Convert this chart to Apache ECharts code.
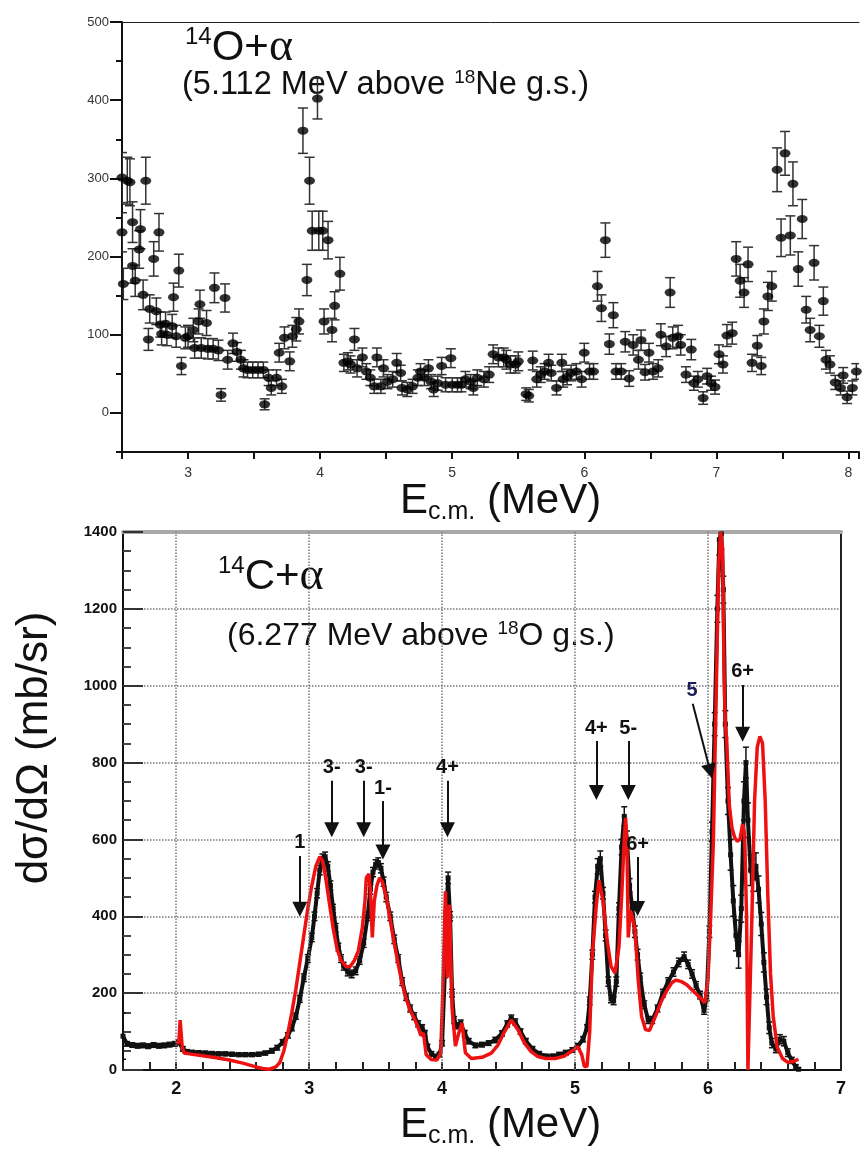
<!DOCTYPE html>
<html>
<head>
<meta charset="utf-8">
<script src="https://cdn.jsdelivr.net/npm/echarts@6/dist/echarts.min.js"></script>
<style>
  html, body { margin: 0; padding: 0; background: #fff; }
  #chart-container { width: 862px; height: 1152px; }
</style>
</head>
<body>
<div id="chart-container"></div>
<script>
var FONT = '"Liberation Sans", Arial, sans-serif';

// 14O + alpha excitation function: [E_cm (MeV), yield, error]
var o14Points = [
  [2.50,301,32],[2.50,231,25],[2.51,165,20],[2.54,297,30],[2.56,295,30],[2.58,244,26],[2.58,188,22],[2.60,169,20],
  [2.63,209,24],[2.64,235,25],[2.66,151,19],[2.68,297,30],[2.70,94,14],[2.71,133,18],[2.74,197,22],[2.76,130,17],
  [2.78,231,24],[2.79,113,16],[2.80,101,14],[2.83,114,15],[2.84,100,14],[2.88,111,15],[2.89,148,18],[2.91,98,14],
  [2.93,182,21],[2.95,60,11],[2.98,96,14],[3.00,98,14],[3.04,106,15],[3.05,83,13],[3.08,117,16],[3.09,139,18],
  [3.10,83,13],[3.14,115,16],[3.15,82,13],[3.19,82,13],[3.20,160,19],[3.23,80,13],[3.25,23,8],[3.28,147,18],
  [3.30,68,12],[3.34,89,13],[3.37,78,12],[3.40,68,12],[3.42,57,11],[3.45,55,10],[3.49,55,10],[3.53,55,10],
  [3.57,55,10],[3.58,11,7],[3.61,45,10],[3.63,32,9],[3.67,45,10],[3.69,77,12],[3.71,34,9],[3.73,96,14],
  [3.77,66,12],[3.79,98,14],[3.82,107,15],[3.84,117,16],[3.87,361,29],[3.90,170,20],[3.92,297,30],[3.94,233,25],
  [3.98,402,26],[3.99,233,25],[4.02,233,25],[4.03,117,16],[4.06,221,24],[4.09,106,15],[4.11,137,18],[4.15,178,21],
  [4.18,64,11],[4.21,66,11],[4.23,62,11],[4.26,94,14],[4.28,57,11],[4.32,71,12],[4.35,53,10],[4.38,45,10],
  [4.41,34,9],[4.43,71,12],[4.46,34,9],[4.48,57,11],[4.51,40,9],[4.55,43,10],[4.58,64,12],[4.61,51,10],
  [4.62,32,9],[4.66,30,9],[4.70,34,9],[4.74,45,10],[4.76,53,10],[4.79,45,10],[4.82,57,11],[4.84,40,9],
  [4.86,30,9],[4.89,38,9],[4.92,60,11],[4.95,36,9],[4.99,70,12],[5.00,36,9],[5.04,36,9],[5.07,36,9],
  [5.10,43,10],[5.14,40,9],[5.16,32,9],[5.19,45,10],[5.24,43,10],[5.28,49,10],[5.31,75,12],[5.35,71,12],
  [5.39,71,12],[5.41,68,12],[5.44,62,11],[5.48,62,11],[5.50,66,12],[5.56,24,8],[5.58,22,8],[5.61,67,12],
  [5.64,43,10],[5.67,49,10],[5.70,53,10],[5.73,64,11],[5.75,51,10],[5.79,32,9],[5.83,64,11],[5.84,43,10],
  [5.87,46,10],[5.90,51,10],[5.94,53,10],[5.98,43,10],[6.00,77,12],[6.04,53,10],[6.07,53,10],[6.10,162,19],
  [6.13,134,17],[6.16,221,22],[6.19,88,13],[6.22,125,16],[6.24,53,10],[6.28,53,10],[6.31,91,13],[6.34,44,10],
  [6.37,87,13],[6.41,68,12],[6.43,93,13],[6.46,52,10],[6.49,77,12],[6.52,53,10],[6.56,57,11],[6.58,100,14],
  [6.62,85,13],[6.65,154,19],[6.67,96,14],[6.71,98,14],[6.73,87,13],[6.77,49,10],[6.81,81,13],[6.83,38,9],
  [6.86,43,10],[6.90,19,8],[6.93,47,10],[6.96,38,9],[6.99,33,9],[7.02,75,12],[7.05,62,11],[7.08,99,14],
  [7.12,102,14],[7.15,197,22],[7.18,169,21],[7.21,154,19],[7.24,190,22],[7.27,64,11],[7.31,86,13],[7.34,60,11],
  [7.36,117,16],[7.39,149,18],[7.42,162,19],[7.46,311,28],[7.49,224,24],[7.52,332,28],[7.56,227,25],[7.58,293,28],
  [7.62,184,22],[7.65,248,25],[7.68,132,17],[7.71,106,15],[7.74,192,22],[7.78,98,14],[7.81,143,18],[7.83,68,12],
  [7.86,62,11],[7.90,39,9],[7.94,32,9],[7.96,48,10],[7.99,20,8],[8.03,32,9],[8.06,53,10]
];

// 14C + alpha measured cross section: [E_cm (MeV), dsigma/dOmega (mb/sr), error]
var c14Points = [
  [1.60,88,60],[1.63,68,6],[1.67,65,6],[1.71,63,6],[1.75,64,6],[1.79,62,6],[1.83,65,6],[1.87,63,6],[1.91,64,6],
  [1.95,66,6],[1.99,68,6],[2.02,72,6],[2.05,55,6],[2.08,48,5],[2.12,46,5],[2.17,45,5],[2.22,44,5],[2.27,43,5],
  [2.32,42,5],[2.37,42,5],[2.42,41,5],[2.47,40,5],[2.52,40,5],[2.57,40,5],[2.62,41,5],[2.67,44,5],[2.72,50,6],
  [2.76,58,6],[2.80,72,7],[2.84,90,7],[2.87,110,8],[2.90,140,8],[2.93,185,9],[2.96,240,10],[2.99,290,10],
  [3.02,345,11],[3.04,400,11],[3.06,460,12],[3.08,520,12],[3.10,550,12],[3.12,555,12],[3.14,530,12],[3.16,480,12],
  [3.18,420,11],[3.20,370,11],[3.22,320,10],[3.24,290,10],[3.26,270,10],[3.29,255,10],[3.32,250,10],[3.35,258,10],
  [3.38,285,10],[3.41,330,11],[3.44,400,11],[3.46,470,12],[3.48,515,12],[3.50,535,12],[3.52,540,12],[3.54,525,12],
  [3.56,490,12],[3.58,450,12],[3.61,400,11],[3.64,340,11],[3.67,290,10],[3.70,230,10],[3.73,190,9],[3.76,160,9],
  [3.79,140,9],[3.82,120,8],[3.85,110,8],[3.87,95,8],[3.89,60,7],[3.92,42,6],[3.95,35,6],[3.98,40,6],[4.00,70,7],
  [4.02,250,10],[4.03,400,12],[4.045,500,15],[4.06,400,12],[4.075,200,10],[4.09,130,9],[4.11,115,8],[4.14,122,8],
  [4.17,95,8],[4.20,75,7],[4.25,64,6],[4.30,66,6],[4.35,70,6],[4.40,78,7],[4.45,95,7],[4.49,120,8],[4.52,135,8],
  [4.55,125,8],[4.59,100,7],[4.63,75,7],[4.68,55,6],[4.73,42,6],[4.78,36,5],[4.83,36,5],[4.88,40,6],[4.93,45,6],
  [4.98,52,6],[5.02,62,7],[5.06,80,7],[5.09,110,8],[5.11,180,10],[5.13,300,12],[5.15,450,15],[5.17,530,20],
  [5.19,550,20],[5.21,460,15],[5.23,350,14],[5.25,230,12],[5.27,185,10],[5.29,180,10],[5.31,230,12],[5.33,420,15],
  [5.35,580,20],[5.37,660,25],[5.39,600,22],[5.41,480,18],[5.43,420,16],[5.45,360,15],[5.47,300,14],[5.49,240,12],
  [5.52,170,10],[5.55,130,9],[5.58,130,9],[5.62,160,9],[5.66,200,10],[5.70,230,10],[5.74,255,11],[5.78,280,11],
  [5.82,295,12],[5.85,275,11],[5.88,250,11],[5.91,220,10],[5.94,195,10],[5.97,155,10],[5.99,190,10],[6.01,360,15],
  [6.03,620,25],[6.05,900,30],[6.07,1200,35],[6.085,1380,40],[6.10,1395,40],[6.115,1250,35],[6.13,900,35],
  [6.15,700,35],[6.17,560,40],[6.19,440,40],[6.21,350,40],[6.23,300,35],[6.25,420,35],[6.27,700,50],[6.285,800,40],
  [6.30,650,45],[6.32,520,40],[6.34,500,35],[6.36,530,35],[6.38,470,35],[6.40,380,30],[6.42,280,25],[6.44,190,20],
  [6.46,110,15],[6.48,70,12],[6.51,55,10],[6.54,80,12],[6.57,75,12],[6.60,45,10],[6.63,25,8],[6.66,8,6],[6.68,2,4]
];

// R-matrix fit (red curve): [E_cm (MeV), dsigma/dOmega (mb/sr)]
var c14Fit = [
  [2.00,70],[2.02,72],[2.03,130],[2.045,60],[2.06,44],[2.10,42],[2.20,37],[2.30,32],[2.40,26],[2.50,18],[2.60,8],
  [2.65,4],[2.70,2],[2.75,8],[2.78,20],[2.81,50],[2.84,96],[2.87,150],[2.90,210],[2.93,280],[2.96,350],[2.99,420],
  [3.02,480],[3.05,530],[3.08,555],[3.10,545],[3.12,510],[3.15,440],[3.18,370],[3.21,315],[3.24,285],[3.28,268],
  [3.31,270],[3.34,285],[3.37,310],[3.40,370],[3.42,440],[3.43,500],[3.45,510],[3.46,470],[3.475,345],[3.49,440],
  [3.51,480],[3.53,500],[3.55,490],[3.58,450],[3.61,390],[3.64,330],[3.67,275],[3.70,225],[3.73,185],[3.76,155],
  [3.79,135],[3.82,110],[3.84,90],[3.86,96],[3.88,40],[3.92,27],[3.96,26],[3.99,44],[4.01,260],[4.025,465],
  [4.04,240],[4.055,430],[4.075,160],[4.10,62],[4.125,96],[4.15,122],[4.175,45],[4.22,30],[4.30,33],[4.37,44],
  [4.42,65],[4.47,100],[4.52,130],[4.57,105],[4.62,70],[4.67,48],[4.72,35],[4.78,30],[4.85,30],[4.92,36],[4.98,50],
  [5.02,61],[5.05,40],[5.07,9],[5.09,10],[5.11,100],[5.13,300],[5.16,430],[5.18,494],[5.21,440],[5.24,340],
  [5.27,270],[5.30,252],[5.33,320],[5.35,450],[5.37,600],[5.38,656],[5.39,590],[5.40,345],[5.415,415],[5.43,400],
  [5.45,365],[5.475,234],[5.50,140],[5.53,105],[5.56,103],[5.61,144],[5.65,180],[5.69,207],[5.73,228],[5.76,234],
  [5.80,230],[5.84,222],[5.88,208],[5.92,195],[5.95,185],[5.975,175],[6.00,240],[6.02,400],[6.04,593],[6.06,953],
  [6.08,1312],[6.095,1400],[6.11,1357],[6.12,1043],[6.13,900],[6.14,860],[6.16,690],[6.18,630],[6.20,605],
  [6.22,595],[6.24,600],[6.26,640],[6.275,615],[6.29,400],[6.30,0],[6.315,0],[6.33,400],[6.35,700],[6.37,840],
  [6.39,868],[6.41,850],[6.43,700],[6.45,450],[6.47,250],[6.49,140],[6.52,60],[6.56,30],[6.60,20],[6.64,22],[6.68,28]
];

// level assignments: [label, E start, value start, E head, value head]
var levelArrows = [
  ['1', 2.93, 557, 2.93, 418],
  ['3-', 3.17, 753, 3.17, 625],
  ['3-', 3.41, 753, 3.41, 625],
  ['1-', 3.555, 700, 3.555, 567],
  ['4+', 4.04, 753, 4.04, 625],
  ['4+', 5.16, 856, 5.16, 722],
  ['5-', 5.40, 856, 5.40, 722],
  ['6+', 5.47, 554, 5.47, 420],
  ['5', 5.885, 953, 6.017, 777],
  ['6+', 6.26, 1002, 6.26, 874]
];

var o14MajorTicks = [0, 100, 200, 300, 400, 500];
var c14GridE = [2, 3, 4, 5, 6];

function intLabel(v) {
  return Math.abs(v - Math.round(v)) < 1e-6 ? String(Math.round(v)) : '';
}

function errorBars(capHalf, color, width) {
  return function (params, api) {
    var x = api.value(0), y = api.value(1), e = api.value(2);
    var hi = api.coord([x, y + e]);
    var lo = api.coord([x, y - e]);
    var st = { stroke: color, lineWidth: width };
    return {
      type: 'group',
      children: [
        { type: 'line', shape: { x1: hi[0], y1: hi[1], x2: lo[0], y2: lo[1] }, style: st },
        { type: 'line', shape: { x1: hi[0] - capHalf, y1: hi[1], x2: hi[0] + capHalf, y2: hi[1] }, style: st },
        { type: 'line', shape: { x1: lo[0] - capHalf, y1: lo[1], x2: lo[0] + capHalf, y2: lo[1] }, style: st }
      ]
    };
  };
}

var titleRich = {
  sup: { fontSize: 24, lineHeight: 24, verticalAlign: 'top', fontFamily: FONT, fill: '#111' },
  big: { fontSize: 42, lineHeight: 46, fontFamily: FONT, fill: '#111' },
  al: { fontSize: 46, lineHeight: 46, fontFamily: '"Liberation Serif", serif', fill: '#111' },
  m: { fontSize: 32.5, lineHeight: 34, fontFamily: FONT, fill: '#111' },
  m2: { fontSize: 32, lineHeight: 34, fontFamily: FONT, fill: '#111' },
  sup2: { fontSize: 19, lineHeight: 19, verticalAlign: 'top', fontFamily: FONT, fill: '#111' },
  e: { fontSize: 42, lineHeight: 48, fontFamily: FONT, fill: '#111' },
  s: { fontSize: 25, lineHeight: 24, verticalAlign: 'bottom', fontFamily: FONT, fill: '#111' }
};

function richText(x, y, text) {
  return {
    type: 'text', x: x, y: y, silent: true,
    style: { text: text, rich: titleRich, align: 'left', verticalAlign: 'middle' }
  };
}

var dom = document.getElementById('chart-container');
var myChart = echarts.init(dom, null, { renderer: 'canvas' });

var option = {
  animation: false,
  backgroundColor: '#fff',
  grid: [
    { left: 122, top: 22, width: 740, height: 430 },
    { left: 123, top: 532, width: 718, height: 538 }
  ],
  xAxis: [
    {
      gridIndex: 0, type: 'value', min: 2.5, max: 8.08, interval: 0.5,
      axisLine: { onZero: false, lineStyle: { color: '#111', width: 2 } },
      axisTick: { length: 7, lineStyle: { color: '#111', width: 2 } },
      axisLabel: { formatter: intLabel, fontFamily: FONT, fontSize: 14, color: '#333', margin: 14 },
      splitLine: { show: false }
    },
    {
      gridIndex: 0, type: 'value', position: 'top', min: 2.5, max: 8.08,
      axisLine: { onZero: false, lineStyle: { color: '#222', width: 1 } },
      axisTick: { show: false }, axisLabel: { show: false }, splitLine: { show: false }
    },
    {
      gridIndex: 1, type: 'value', min: 1.6, max: 7, interval: 0.2,
      axisLine: { onZero: false, lineStyle: { color: '#111', width: 2 } },
      axisTick: { inside: true, length: 8, lineStyle: { color: '#222', width: 2 } },
      axisLabel: { formatter: intLabel, fontFamily: FONT, fontWeight: 'bold', fontSize: 18, color: '#111', margin: 10 },
      splitLine: { show: false }
    },
    {
      gridIndex: 1, type: 'value', position: 'top', min: 1.6, max: 7,
      axisLine: { onZero: false, lineStyle: { color: '#a8a8a8', width: 4 } },
      axisTick: { show: false }, axisLabel: { show: false }, splitLine: { show: false }
    }
  ],
  yAxis: [
    {
      gridIndex: 0, type: 'value', position: 'left', min: -50, max: 500, interval: 50,
      axisLine: { show: true, onZero: false, lineStyle: { color: '#111', width: 2 } },
      axisTick: { customValues: o14MajorTicks, length: 12, lineStyle: { color: '#111', width: 2 } },
      axisLabel: { customValues: o14MajorTicks, fontFamily: FONT, fontSize: 13, color: '#333', margin: 13 },
      splitLine: { show: false }
    },
    {
      gridIndex: 0, type: 'value', position: 'left', min: -50, max: 500, interval: 50,
      axisLine: { show: false, onZero: false },
      axisTick: { length: 6, lineStyle: { color: '#111', width: 2 } },
      axisLabel: { show: false }, splitLine: { show: false }
    },
    {
      gridIndex: 1, type: 'value', position: 'left', min: 0, max: 1400, interval: 200,
      axisLine: { show: true, onZero: false, lineStyle: { color: '#111', width: 2 } },
      axisTick: { inside: true, length: 20, lineStyle: { color: '#333', width: 2 } },
      minorTick: { show: true, splitNumber: 4, length: 8, lineStyle: { color: '#444', width: 2 } },
      axisLabel: {
        formatter: function (v) { return String(v); },
        fontFamily: FONT, fontWeight: 'bold', fontSize: 15, color: '#111', margin: 6
      },
      splitLine: { show: true, lineStyle: { type: 'dotted', color: '#777', width: 1.5 } }
    },
    {
      gridIndex: 1, type: 'value', position: 'right', min: 0, max: 1400,
      axisLine: { show: true, onZero: false, lineStyle: { color: '#222', width: 2 } },
      axisTick: { show: false }, axisLabel: { show: false }, splitLine: { show: false }
    }
  ],
  series: [
    {
      type: 'custom', xAxisIndex: 0, yAxisIndex: 0, clip: true,
      renderItem: errorBars(5, '#333', 1.5),
      encode: { x: 0, y: 1 },
      data: o14Points, z: 2
    },
    {
      type: 'scatter', xAxisIndex: 0, yAxisIndex: 0, clip: true,
      symbol: 'circle', symbolSize: [11, 8],
      itemStyle: { color: '#000' },
      data: o14Points.map(function (p) { return [p[0], p[1]]; }), z: 3
    },
    {
      type: 'custom', xAxisIndex: 2, yAxisIndex: 2, clip: true,
      renderItem: errorBars(3, '#111', 1.5),
      encode: { x: 0, y: 1 },
      data: c14Points, z: 2,
      markLine: {
        silent: true, symbol: 'none', label: { show: false },
        lineStyle: { type: 'dotted', color: '#777', width: 1.5 },
        data: c14GridE.map(function (e) { return { xAxis: e }; })
      }
    },
    {
      type: 'line', xAxisIndex: 2, yAxisIndex: 2, clip: true,
      symbol: 'rect', symbolSize: 5, showSymbol: true,
      itemStyle: { color: '#111' },
      lineStyle: { color: '#111', width: 4 },
      data: c14Points.map(function (p) { return [p[0], p[1]]; }), z: 3
    },
    {
      type: 'line', xAxisIndex: 2, yAxisIndex: 2, clip: true,
      symbol: 'none',
      lineStyle: { color: '#ee1111', width: 3.5 },
      data: c14Fit, z: 4,
      markLine: {
        silent: true,
        symbol: ['none', 'triangle'], symbolSize: 15,
        lineStyle: { type: 'solid', color: '#111', width: 2 },
        itemStyle: { color: '#111' },
        label: {
          show: true, position: 'start', formatter: '{b}', distance: 3,
          fontFamily: FONT, fontWeight: 'bold', fontSize: 20, color: '#111'
        },
        data: levelArrows.map(function (a) {
          var start = { coord: [a[1], a[2]], name: a[0] };
          if (a[0] === '5') start.label = { color: '#1c1c5a' };
          return [start, { coord: [a[3], a[4]] }];
        })
      }
    }
  ],
  graphic: [
    richText(185, 48, '{sup|14}{big|O+}{al|α}'),
    richText(182, 85, '{m|(5.112 MeV above }{sup2|18}{m|Ne g.s.)}'),
    richText(400, 501, '{e|E}{s|c.m.}{e| (MeV)}'),
    richText(218, 577, '{sup|14}{big|C+}{al|α}'),
    richText(227, 636, '{m2|(6.277 MeV above }{sup2|18}{m2|O g.s.)}'),
    richText(400, 1125, '{e|E}{s|c.m.}{e| (MeV)}'),
    {
      type: 'text', x: 35, y: 748, rotation: Math.PI / 2, silent: true,
      style: {
        text: 'dσ/dΩ (mb/sr)', align: 'center', verticalAlign: 'middle',
        font: '44px ' + FONT, fill: '#111'
      }
    }
  ]
};

if (option && typeof option === 'object') {
  myChart.setOption(option);
}

window.addEventListener('resize', myChart.resize);
</script>
</body>
</html>
